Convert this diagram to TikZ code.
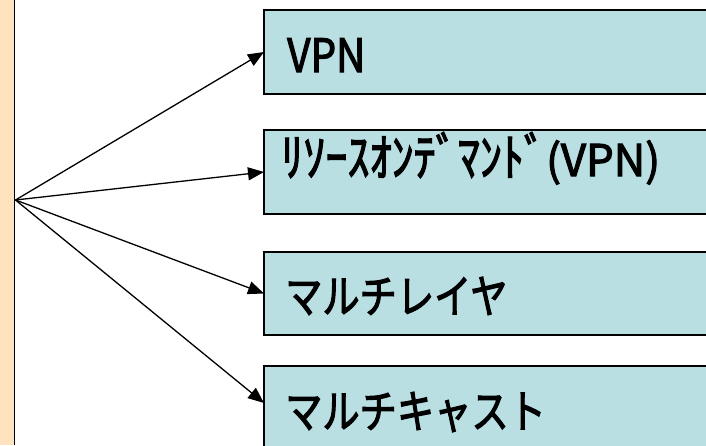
\documentclass[tikz,border=0pt]{standalone}
\usepackage{fontspec}
\newfontfamily\jp{Noto Sans CJK JP}[FakeBold=2.5]
\usetikzlibrary{arrows.meta,calc}
\definecolor{peach}{RGB}{255,227,190}
\definecolor{boxfill}{RGB}{186,223,227}
\begin{document}
\begin{tikzpicture}[x=1pt,y=-1pt,
  box/.style={draw=black,line width=1.7pt,fill=boxfill,anchor=north west,inner sep=0pt,outer sep=0pt,minimum width=470pt},
  lbl/.style={anchor=base west,inner sep=0pt,text=black},
  conn/.style={line width=1.3pt,-{Triangle[length=16pt,width=13pt]}}]
\useasboundingbox (0,0) rectangle (706,445);
\clip (0,0) rectangle (706,445);
\fill[white] (0,0) rectangle (706,445);
\fill[peach] (0,0) rectangle (14.5,445);
\draw[line width=1.7pt] (14.5,0) -- (14.5,445);
\coordinate (src) at (15.5,200);
\node[box,minimum height=84pt] (b1) at (264,10) {};
\node[box,minimum height=84pt] (b2) at (264,130) {};
\node[box,minimum height=83pt] (b3) at (264,252) {};
\node[box,minimum height=100pt] (b4) at (264,366) {};
\node[lbl,font=\jp\fontsize{46}{46}\selectfont] (t1) at (287,72) {\scalebox{0.88}[1]{VPN}};
\node[lbl,font=\jp\fontsize{46}{46}\selectfont] (t2) at (281,176) {\scalebox{0.96}[1.12]{ﾘｿｰｽｵﾝﾃﾞﾏﾝﾄﾞ}\scalebox{0.95}[0.95]{(VPN)}};
\node[lbl,font=\jp\fontsize{38}{38}\selectfont] (t3) at (285,313) {\scalebox{0.98}[1.2]{マルチレイヤ}};
\node[lbl,font=\jp\fontsize{38}{38}\selectfont] (t4) at (285,428) {\scalebox{0.98}[1.2]{マルチキャスト}};
\draw[conn] (src) -- (b1.west);
\draw[conn] (src) -- (b2.west);
\draw[conn] (src) -- (b3.west);
\draw[conn] (src) -- ($(b4.north west)!0.37!(b4.south west)$);
\end{tikzpicture}
\end{document}
